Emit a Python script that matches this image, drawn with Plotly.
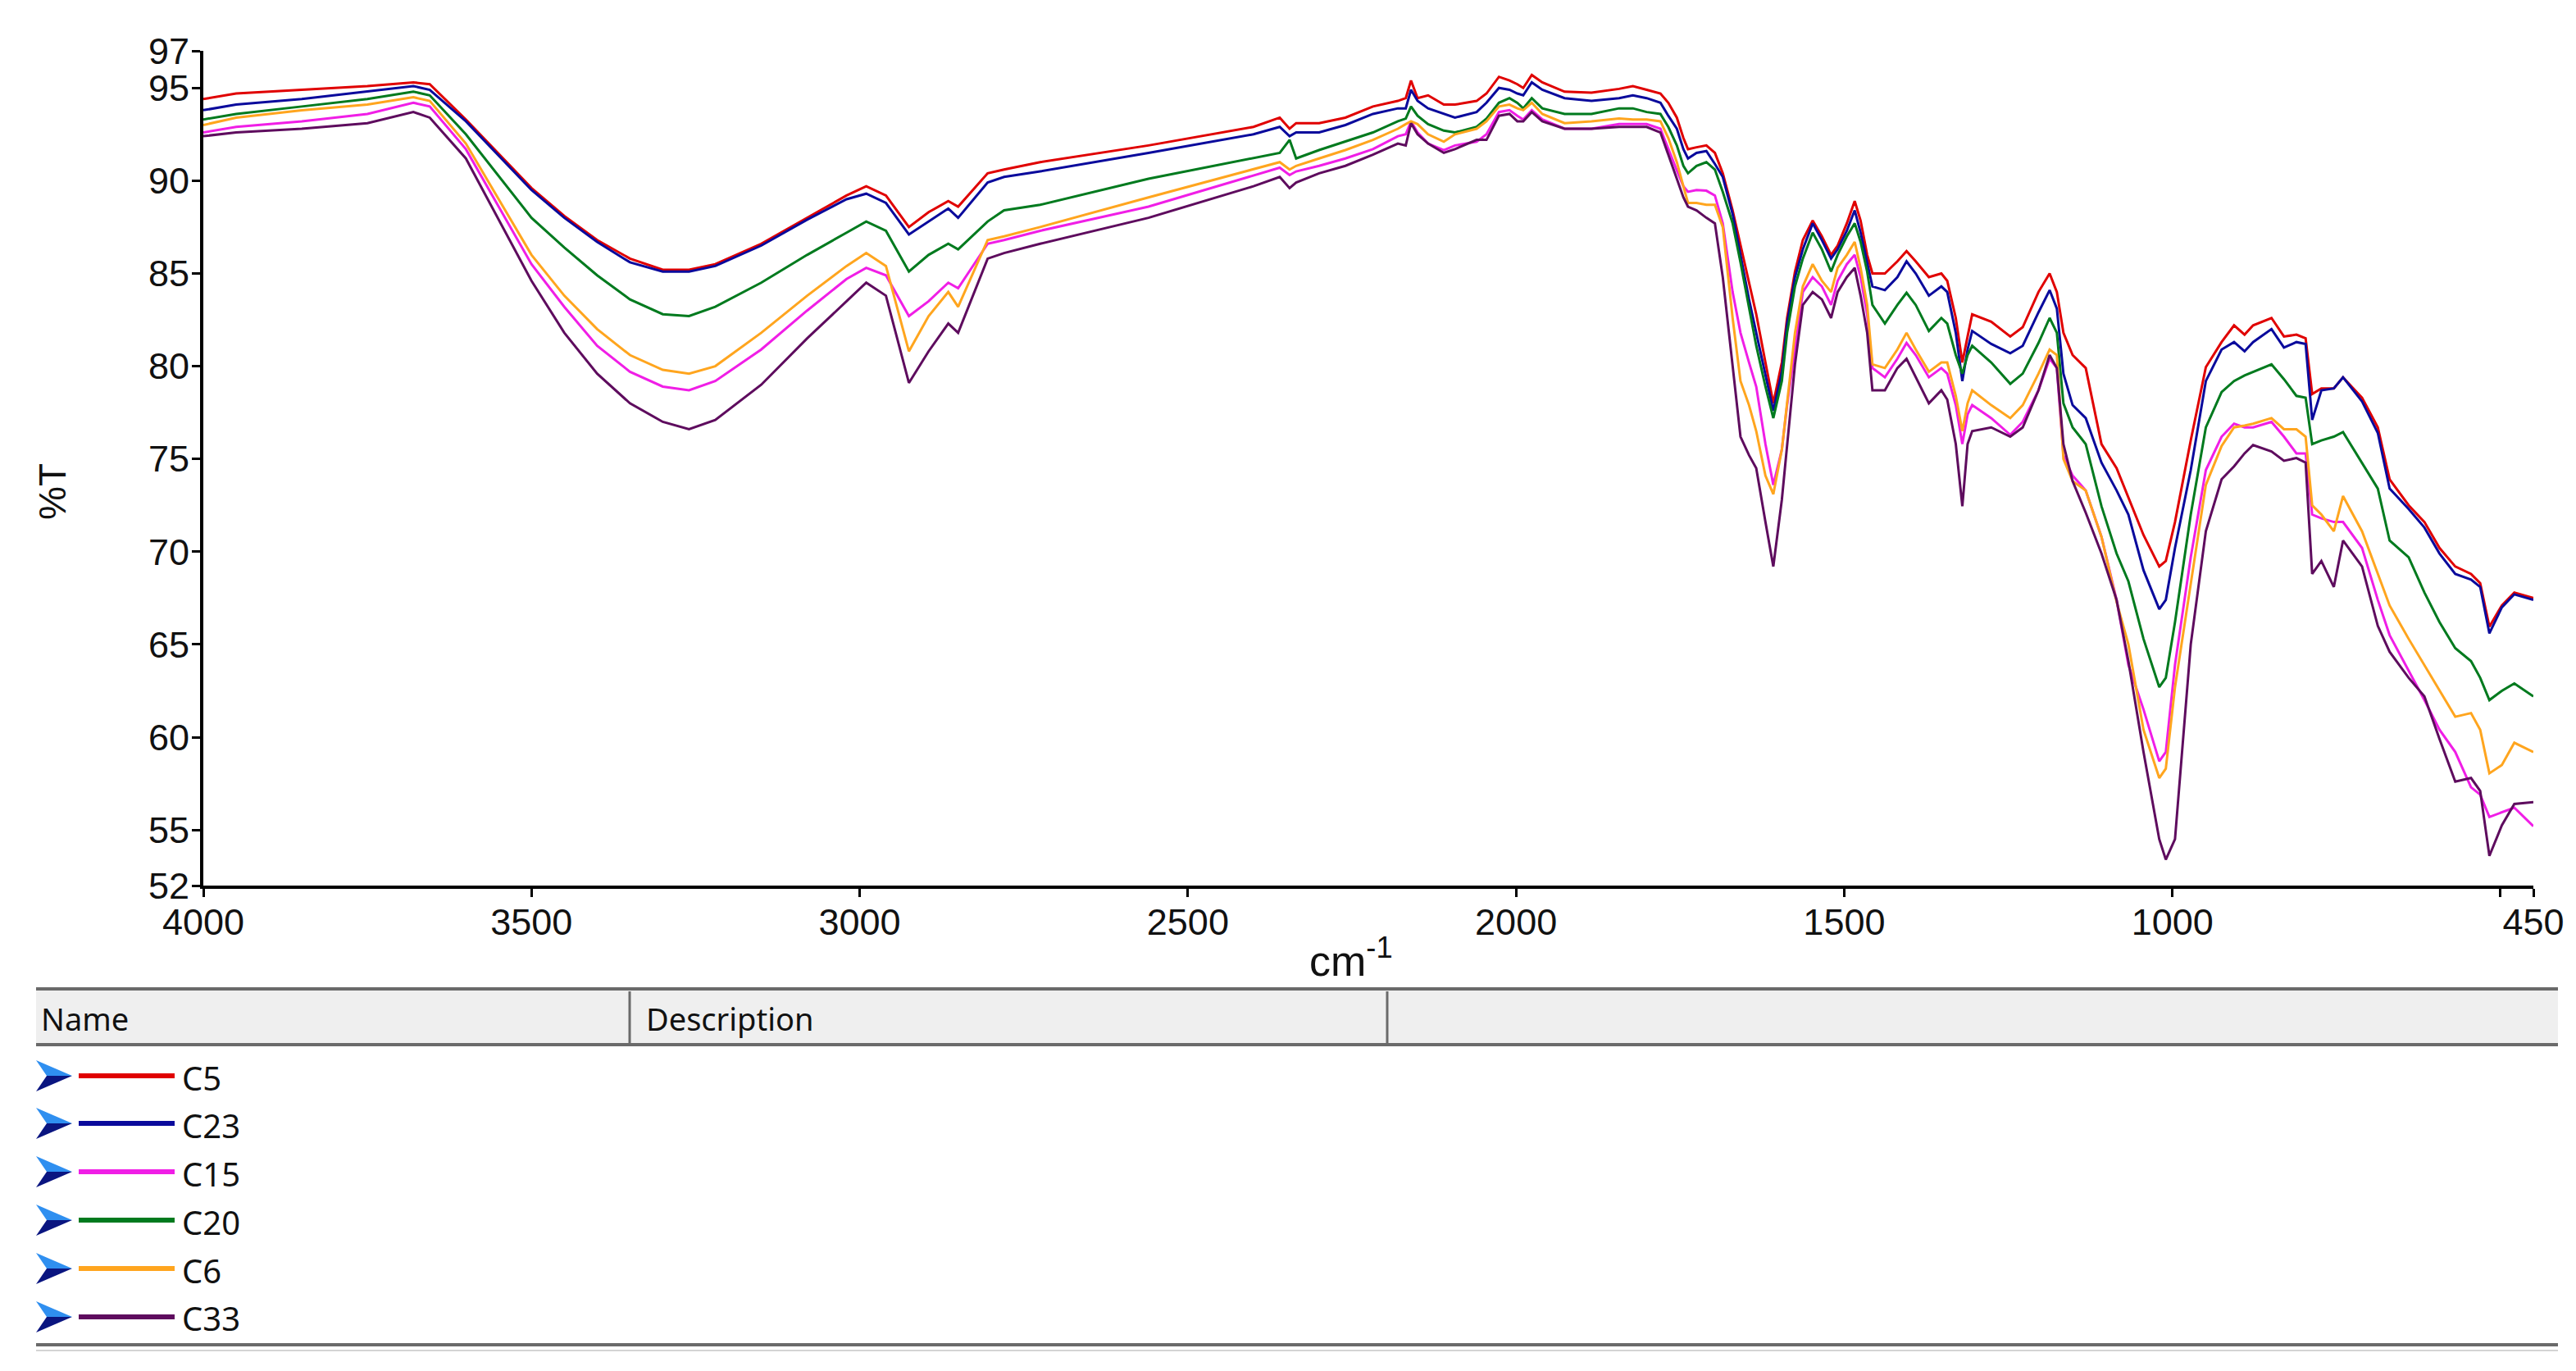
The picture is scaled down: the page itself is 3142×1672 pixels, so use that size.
import plotly.graph_objects as go

# wavenumber grid (cm-1), shared by all spectra
wavenumber = [
    4000, 3950, 3850, 3750, 3680, 3655, 3600, 3500, 3450, 3400,
    3350, 3300, 3260, 3220, 3150, 3080, 3020, 2990, 2960, 2925,
    2895, 2865, 2850, 2805, 2780, 2725, 2560, 2400, 2360, 2345,
    2335, 2300, 2260, 2218, 2180, 2168, 2160, 2150, 2134, 2110,
    2093, 2060, 2045, 2026, 2010, 1998, 1989, 1976, 1960, 1926,
    1885, 1843, 1822, 1801, 1780, 1768, 1755, 1745, 1738, 1725,
    1710, 1697, 1685, 1670, 1658, 1645, 1634, 1620, 1608, 1595,
    1587, 1575, 1563, 1548, 1534, 1520, 1510, 1496, 1484, 1475,
    1465, 1457, 1438, 1419, 1405, 1391, 1371, 1352, 1343, 1330,
    1320, 1312, 1305, 1276, 1247, 1228, 1204, 1187, 1176, 1166,
    1152, 1132, 1108, 1085, 1067, 1044, 1020, 1010, 996, 972,
    949, 925, 906, 890, 877, 849, 830, 811, 797, 787,
    773, 754, 740, 711, 687, 669, 640, 616, 593, 569,
    545, 531, 517, 498, 479, 450,
]

c5 = [
    94.4, 94.7, 94.9, 95.1, 95.3, 95.2, 93.3, 89.6, 88.1, 86.8,
    85.8, 85.2, 85.2, 85.5, 86.6, 88.0, 89.2, 89.7, 89.2, 87.5,
    88.3, 88.9, 88.6, 90.4, 90.6, 91.0, 91.9, 92.9, 93.4, 92.8,
    93.1, 93.1, 93.4, 94.0, 94.3, 94.45, 95.4, 94.45, 94.6, 94.1,
    94.1, 94.3, 94.7, 95.6, 95.4, 95.2, 95.0, 95.7, 95.3, 94.8,
    94.75, 94.95, 95.1, 94.9, 94.7, 94.2, 93.4, 92.3, 91.7, 91.8,
    91.9, 91.5, 90.4, 88.4, 86.5, 84.5, 82.8, 80.2, 78.0, 80.2,
    82.6, 85.1, 86.8, 87.85, 87.0, 86.0, 86.5, 87.7, 88.9, 87.85,
    86.0, 85.0, 85.0, 85.65, 86.2, 85.65, 84.8, 85.0, 84.6, 82.6,
    80.2, 81.6, 82.8, 82.4, 81.6, 82.1, 84.0, 85.0, 84.0, 81.8,
    80.6, 79.9, 75.8, 74.5, 72.9, 70.9, 69.2, 69.5, 71.6, 76.0,
    79.95, 81.3, 82.2, 81.7, 82.2, 82.6, 81.6, 81.7, 81.5, 78.5,
    78.8, 78.8, 79.4, 78.3, 76.7, 73.9, 72.5, 71.6, 70.2, 69.2,
    68.8, 68.3, 65.96, 67.1, 67.8, 67.5,
]

c23 = [
    93.8, 94.1, 94.4, 94.8, 95.1, 94.9, 93.2, 89.5, 88.0, 86.7,
    85.6, 85.1, 85.1, 85.4, 86.5, 87.9, 89.0, 89.3, 88.8, 87.1,
    87.8, 88.5, 88.0, 89.9, 90.2, 90.5, 91.5, 92.5, 92.9, 92.4,
    92.6, 92.6, 93.0, 93.6, 93.9, 93.9, 94.9, 94.3, 93.9, 93.6,
    93.4, 93.7, 94.2, 95.0, 94.9, 94.7, 94.6, 95.3, 94.9, 94.45,
    94.3, 94.45, 94.6, 94.45, 94.2, 93.5, 92.8, 91.7, 91.2, 91.5,
    91.6, 90.9, 90.2, 88.2, 86.0, 83.6, 81.8, 79.6, 77.6, 79.7,
    82.3, 84.8, 86.3, 87.7, 86.8, 85.8, 86.3, 87.3, 88.4, 87.2,
    85.65, 84.3, 84.1, 84.8, 85.65, 85.0, 83.8, 84.3, 84.0, 81.8,
    79.2, 80.9, 81.9, 81.2, 80.7, 81.1, 82.9, 84.1, 83.1, 79.6,
    77.9, 77.2, 74.8, 73.3, 72.0, 69.0, 66.9, 67.4, 70.2, 74.4,
    79.2, 80.9, 81.3, 80.8, 81.3, 82.0, 81.0, 81.3, 81.2, 77.1,
    78.7, 78.8, 79.4, 78.1, 76.4, 73.4, 72.3, 71.3, 69.9, 68.8,
    68.5, 68.1, 65.6, 67.0, 67.7, 67.4,
]

c15 = [
    92.6, 92.9, 93.2, 93.6, 94.2, 94.0, 91.7, 85.5, 83.2, 81.1,
    79.7, 78.9, 78.7, 79.2, 80.9, 83.0, 84.7, 85.3, 84.9, 82.7,
    83.5, 84.5, 84.2, 86.6, 86.8, 87.3, 88.6, 90.3, 90.7, 90.3,
    90.5, 90.8, 91.2, 91.7, 92.4, 92.5, 93.2, 92.6, 92.0, 91.65,
    91.9, 92.1, 92.5, 93.7, 93.8, 93.5, 93.3, 93.8, 93.3, 92.8,
    92.8, 93.05, 93.05, 93.05, 92.8, 91.7, 90.55, 89.7, 89.4, 89.5,
    89.46, 89.2, 87.7, 84.0, 81.8, 80.2, 78.9, 75.8, 73.6, 75.5,
    77.9, 80.9, 84.0, 84.8, 84.3, 83.3, 84.6, 85.5, 86.0, 84.8,
    82.8, 79.9, 79.4, 80.4, 81.25, 80.6, 79.4, 79.9, 79.6, 77.9,
    75.8, 77.4, 77.9, 77.2, 76.3, 77.0, 78.7, 80.4, 79.9, 75.2,
    74.1, 73.3, 70.8, 67.4, 63.9, 61.5, 58.7, 59.2, 63.9, 69.7,
    74.4, 76.2, 76.9, 76.7, 76.7, 77.0, 76.2, 75.3, 75.3, 72.0,
    71.8, 71.6, 71.6, 70.2, 67.4, 65.5, 63.6, 62.0, 60.4, 59.2,
    57.3, 56.9, 55.7, 55.95, 56.2, 55.2,
]

c20 = [
    93.3, 93.6, 94.0, 94.4, 94.8, 94.6, 92.5, 88.0, 86.4, 84.9,
    83.6, 82.8, 82.7, 83.2, 84.5, 86.0, 87.2, 87.8, 87.3, 85.1,
    86.0, 86.6, 86.3, 87.8, 88.4, 88.7, 90.1, 91.2, 91.5, 92.2,
    91.2, 91.65, 92.1, 92.6, 93.2, 93.35, 94.0, 93.5, 93.05, 92.7,
    92.6, 92.9, 93.35, 94.2, 94.45, 94.2, 93.9, 94.45, 93.9, 93.6,
    93.6, 93.9, 93.9, 93.7, 93.6, 92.9, 91.9, 90.8, 90.4, 90.8,
    91.0, 90.6, 89.4, 87.7, 85.6, 83.1, 81.1, 78.9, 77.2, 79.2,
    81.8, 84.3, 85.8, 87.2, 86.3, 85.1, 86.0, 87.0, 87.7, 86.7,
    85.1, 83.3, 82.3, 83.3, 83.96, 83.3, 81.9, 82.6, 82.3, 80.6,
    79.6, 80.6, 81.1, 80.2, 79.05, 79.6, 81.25, 82.6, 81.8, 78.0,
    76.7, 75.8, 72.45, 69.9, 68.4, 65.3, 62.7, 63.2, 66.2, 72.0,
    76.7, 78.6, 79.2, 79.5, 79.7, 80.1, 79.3, 78.4, 78.3, 75.8,
    76.0, 76.2, 76.45, 74.8, 73.4, 70.6, 69.7, 67.8, 66.2, 64.8,
    64.1, 63.2, 62.0, 62.5, 62.9, 62.2,
]

c6 = [
    93.0, 93.4, 93.8, 94.1, 94.5, 94.3, 92.0, 86.0, 83.8, 82.0,
    80.6, 79.8, 79.6, 80.0, 81.8, 83.8, 85.4, 86.1, 85.4, 80.8,
    82.7, 84.0, 83.2, 86.8, 87.0, 87.5, 89.1, 90.6, 91.0, 90.6,
    90.8, 91.2, 91.65, 92.2, 92.8, 93.05, 93.2, 93.05, 92.5, 92.1,
    92.5, 92.8, 93.2, 94.0, 94.1, 93.9, 93.8, 94.2, 93.6, 93.1,
    93.2, 93.35, 93.3, 93.3, 93.2, 92.3, 91.0, 89.7, 88.8, 88.8,
    88.7, 88.7, 87.5, 82.6, 79.2, 77.9, 76.5, 74.1, 73.1, 75.5,
    78.0, 81.8, 84.3, 85.5, 84.6, 84.0, 85.3, 86.0, 86.7, 85.3,
    83.3, 80.1, 79.9, 80.9, 81.8, 80.9, 79.7, 80.2, 80.2, 78.4,
    76.5, 78.0, 78.7, 77.9, 77.2, 77.9, 79.6, 80.9, 80.6, 75.0,
    73.8, 73.3, 70.8, 67.3, 65.0, 60.4, 57.8, 58.3, 62.7, 68.3,
    73.6, 75.7, 76.7, 76.8, 76.9, 77.2, 76.6, 76.6, 76.2, 72.5,
    72.0, 71.1, 73.0, 71.1, 68.8, 67.1, 65.3, 63.9, 62.5, 61.1,
    61.3, 60.4, 58.05, 58.5, 59.7, 59.2,
]

c33 = [
    92.4, 92.6, 92.8, 93.1, 93.7, 93.4, 91.2, 84.6, 81.8, 79.6,
    78.0, 77.0, 76.6, 77.1, 79.0, 81.5, 83.5, 84.5, 83.8, 79.1,
    80.8, 82.3, 81.8, 85.8, 86.1, 86.6, 88.0, 89.7, 90.2, 89.6,
    89.9, 90.4, 90.8, 91.4, 92.0, 91.9, 93.1, 92.5, 92.0, 91.5,
    91.7, 92.2, 92.2, 93.5, 93.6, 93.2, 93.2, 93.7, 93.2, 92.8,
    92.8, 92.9, 92.9, 92.9, 92.6, 91.4, 90.1, 89.1, 88.6, 88.4,
    88.0, 87.7, 84.8, 80.1, 76.2, 75.2, 74.5, 71.6, 69.2, 72.8,
    75.8, 80.1, 83.3, 84.0, 83.6, 82.6, 84.0, 84.8, 85.3, 83.8,
    81.8, 78.7, 78.7, 79.9, 80.4, 79.4, 78.0, 78.7, 78.2, 75.8,
    72.45, 75.8, 76.5, 76.7, 76.2, 76.7, 78.7, 80.6, 79.9, 75.8,
    73.8, 72.1, 69.9, 67.4, 64.1, 59.2, 54.5, 53.4, 54.5, 65.0,
    71.1, 73.9, 74.6, 75.3, 75.75, 75.4, 74.9, 75.05, 74.8, 68.8,
    69.5, 68.1, 70.6, 69.2, 66.0, 64.6, 63.2, 62.2, 59.9, 57.6,
    57.8, 57.1, 53.6, 55.25, 56.4, 56.5,
]

names = ["C5", "C23", "C15", "C20", "C6", "C33"]
colors = ["#e00000", "#0a0a9c", "#f01ee6", "#007a1e", "#ffa51e", "#5e0c5e"]
spectra = [c5, c23, c15, c20, c6, c33]

y_ticks = [52, 55, 60, 65, 70, 75, 80, 85, 90, 95, 97]
x_ticks = [4000, 3500, 3000, 2500, 2000, 1500, 1000, 450]
x_minor_ticks = [500]

# canvas / plot-area geometry in pixels
W, H = 3142, 1672
L, R, T, B = 240, 60, 54, 600
PW, PH = W - L - R, H - T - B


def px(x):
    return (x - L) / PW


def py(y):
    return (H - B - y) / PH


NUM_FONT = "Liberation Sans, Arial, sans-serif"
UI_FONT = "Noto Sans, Open Sans, DejaVu Sans, sans-serif"

fig = go.Figure()
for name, color, vals in zip(names, colors, spectra):
    fig.add_trace(go.Scatter(x=wavenumber, y=vals, mode="lines", name=name,
                             line=dict(color=color, width=3), showlegend=False))

shapes = []
annotations = []

# table-like legend below the plot
tx0, tx1 = 36, 3112
shapes.append(dict(type="rect", xref="paper", yref="paper",
                   x0=px(tx0), x1=px(tx1), y0=py(1266), y1=py(1200),
                   fillcolor="#efefef", line=dict(width=0), layer="below"))
for yy, col, wd in [(1198, "#6a6a6a", 4), (1266, "#6a6a6a", 4), (1632, "#6a6a6a", 4), (1639, "#d4d4d4", 2)]:
    shapes.append(dict(type="line", xref="paper", yref="paper",
                       x0=px(tx0), x1=px(tx1), y0=py(yy), y1=py(yy),
                       line=dict(color=col, width=wd)))
for xx in [760, 1684]:
    shapes.append(dict(type="line", xref="paper", yref="paper",
                       x0=px(xx), x1=px(xx), y0=py(1201), y1=py(1265),
                       line=dict(color="#6a6a6a", width=3)))
annotations.append(dict(text="Name", xref="paper", yref="paper", x=px(40), y=py(1234),
                        xanchor="left", yanchor="middle", showarrow=False,
                        font=dict(family=UI_FONT, size=38, color="#111111")))
annotations.append(dict(text="Description", xref="paper", yref="paper", x=px(778), y=py(1234),
                        xanchor="left", yanchor="middle", showarrow=False,
                        font=dict(family=UI_FONT, size=38, color="#111111")))

row_y = [1304, 1362, 1421, 1480, 1539, 1598]
for name, color, yc in zip(names, colors, row_y):
    ax = 36
    top = "M {},{} L {},{} L {},{} Z".format(px(ax), py(yc - 19), px(ax + 44), py(yc), px(ax + 13), py(yc))
    bot = "M {},{} L {},{} L {},{} Z".format(px(ax + 13), py(yc), px(ax + 44), py(yc), px(ax), py(yc + 19))
    shapes.append(dict(type="path", xref="paper", yref="paper", path=top,
                       fillcolor="#2f8ff0", line=dict(width=0)))
    shapes.append(dict(type="path", xref="paper", yref="paper", path=bot,
                       fillcolor="#0a1580", line=dict(width=0)))
    shapes.append(dict(type="line", xref="paper", yref="paper",
                       x0=px(88), x1=px(205), y0=py(yc), y1=py(yc),
                       line=dict(color=color, width=6)))
    annotations.append(dict(text=name, xref="paper", yref="paper", x=px(212), y=py(yc + 2),
                            xanchor="left", yanchor="middle", showarrow=False,
                            font=dict(family=UI_FONT, size=40, color="#111111")))

# axis titles
annotations.append(dict(text="%T", xref="paper", yref="paper", x=px(56), y=py(592),
                        xanchor="center", yanchor="middle", showarrow=False, textangle=-90,
                        font=dict(family="Liberation Sans, Arial, sans-serif", size=46, color="#111111")))
annotations.append(dict(text="cm<sup>-1</sup>", xref="paper", yref="paper", x=px(1640), y=py(1160),
                        xanchor="center", yanchor="middle", showarrow=False,
                        font=dict(family=NUM_FONT, size=52, color="#111111")))

fig.update_layout(
    width=W, height=H,
    margin=dict(l=L, r=R, t=T, b=B),
    paper_bgcolor="white", plot_bgcolor="white",
    shapes=shapes, annotations=annotations,
    xaxis=dict(range=[4000, 450], tickvals=x_ticks, tickangle=0,
               ticks="outside", ticklen=10, tickwidth=3, tickcolor="black",
               ticklabelstandoff=-8,
               minor=dict(tickvals=x_minor_ticks, ticks="outside", ticklen=10,
                          tickwidth=3, tickcolor="black", showgrid=False),
               showline=True, linecolor="black", linewidth=4,
               showgrid=False, zeroline=False,
               tickfont=dict(family=NUM_FONT, size=45, color="#111111")),
    yaxis=dict(range=[52, 97], tickvals=y_ticks,
               ticks="outside", ticklen=10, tickwidth=3, tickcolor="black",
               ticklabelstandoff=-6,
               showline=True, linecolor="black", linewidth=4,
               showgrid=False, zeroline=False,
               tickfont=dict(family=NUM_FONT, size=45, color="#111111")),
)

fig.write_html("out.html")
